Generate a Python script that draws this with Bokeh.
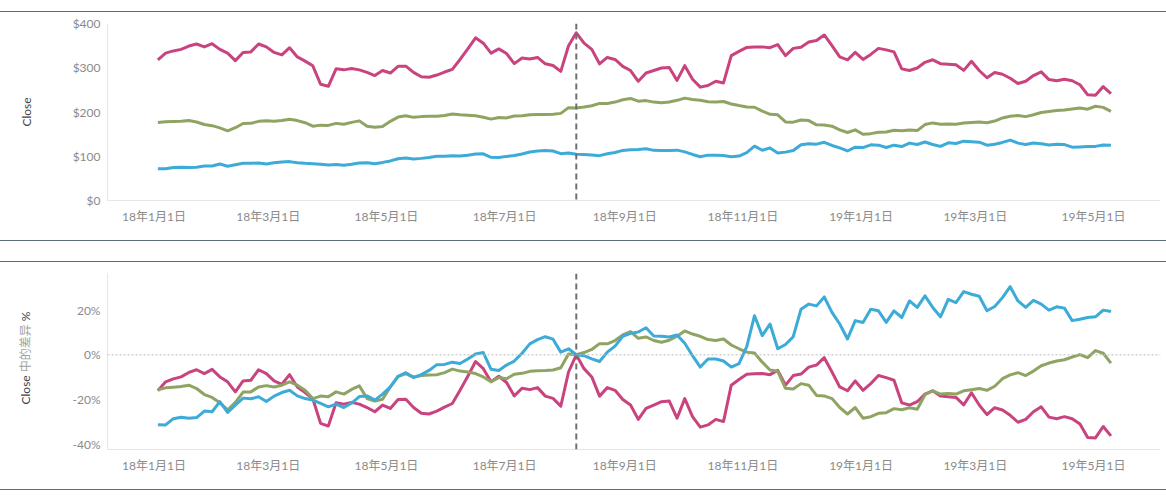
import pandas as pd
from bokeh.plotting import figure
from bokeh.models import (Range1d, FixedTicker, PrintfTickFormatter, CustomJSTickFormatter,
                          Span, Div, Spacer, ColumnDataSource)
from bokeh.layouts import column, row
from bokeh.embed import file_html
from bokeh.resources import INLINE

# ---------------- data ----------------
sample_start = "2018-01-03"
sample_end = "2019-05-10"
sample_step = "4D"
ref_date = "2018-08-07"          # the dashed reference line, base of the % difference

tick_dates = ["2018-01-01", "2018-03-01", "2018-05-01", "2018-07-01", "2018-09-01",
              "2018-11-01", "2019-01-01", "2019-03-01", "2019-05-01"]
tick_labels = ["18年1月1日", "18年3月1日", "18年5月1日", "18年7月1日", "18年9月1日",
               "18年11月1日", "19年1月1日", "19年3月1日", "19年5月1日"]

close_ticks = [0, 100, 200, 300, 400]
pct_ticks = [-40, -20, 0, 20]

# close on the reference date
ref_close_pink = 379.0
ref_close_green = 209.0
ref_close_blue = 104.5

# % difference in Close relative to the reference date
pink_pct = [
    -16.1, -12.1, -10.8, -9.9, -7.9, -6.7, -8.4, -6.5, -9.9, -12.1,
    -16.6, -11.7, -11.4, -6.7, -8.4, -11.7, -13.2, -8.9, -14.4, -16.9,
    -19.7, -30.7, -31.9, -21.5, -22.1, -21.3, -22.1, -23.6, -25.5, -22.5,
    -24.0, -20.0, -19.9, -23.6, -26.2, -26.5, -25.2, -23.4, -21.8, -15.9,
    -9.6, -3.0, -6.2, -12.1, -9.6, -12.4, -18.4, -15.0, -15.6, -14.7,
    -18.5, -19.5, -23.0, -7.7, 0.0, -6.2, -9.9, -18.5, -14.7, -15.9,
    -20.0, -22.5, -28.9, -24.0, -22.5, -21.0, -20.7, -28.4, -19.6, -27.7,
    -32.4, -31.4, -28.9, -29.9, -13.6, -11.1, -8.7, -8.5, -8.4, -8.9,
    -7.0, -13.6, -9.3, -8.6, -5.5, -4.6, -1.3, -7.7, -14.4, -16.1,
    -11.7, -15.9, -12.9, -9.3, -10.2, -11.4, -21.5, -22.5, -21.0, -17.6,
    -16.1, -18.4, -18.8, -19.1, -22.4, -17.0, -22.5, -26.8, -23.7, -24.7,
    -27.1, -30.2, -28.9, -25.5, -23.3, -27.9, -28.6, -27.7, -28.6, -31.0,
    -37.0, -37.2, -32.1, -36.3,
]
green_pct = [
    -15.7, -14.8, -14.5, -14.2, -13.6, -15.1, -17.8, -19.1, -21.5, -24.7,
    -21.3, -16.7, -16.6, -14.4, -13.8, -14.4, -13.6, -12.1, -13.6, -15.9,
    -19.6, -18.5, -18.8, -16.6, -17.6, -15.5, -13.9, -19.6, -20.7, -19.9,
    -14.4, -9.8, -8.4, -10.1, -9.3, -9.0, -8.9, -8.0, -6.4, -7.3,
    -7.7, -8.4, -9.9, -12.0, -10.2, -10.7, -8.7, -8.3, -7.4, -7.1,
    -7.0, -6.8, -5.8, 0.4, 0.0, 1.0, 2.4, 5.0, 4.9, 6.4,
    8.9, 10.4, 7.4, 8.0, 6.4, 5.6, 6.5, 8.3, 10.7, 9.3,
    8.3, 6.8, 6.4, 7.1, 4.4, 2.7, 1.2, 0.8, -3.3, -6.8,
    -7.4, -15.0, -15.3, -12.9, -13.6, -18.2, -18.4, -19.6, -23.6, -26.5,
    -23.6, -28.4, -27.7, -26.2, -25.9, -24.1, -24.6, -23.7, -24.4, -17.9,
    -16.1, -17.6, -17.3, -17.6, -16.1, -15.6, -15.1, -15.9, -14.1, -10.7,
    -9.0, -8.0, -9.3, -7.3, -4.9, -3.7, -2.8, -2.2, -1.0, 0.1,
    -1.3, 1.9, 0.7, -3.7,
]
blue_pct = [
    -31.3, -31.4, -28.6, -28.0, -28.4, -28.1, -25.2, -25.5, -21.0, -25.8,
    -22.5, -19.4, -19.7, -18.8, -20.9, -18.5, -16.9, -15.9, -18.4, -19.6,
    -20.3, -21.8, -23.3, -22.1, -23.6, -21.6, -18.7, -18.4, -20.3, -17.6,
    -14.4, -9.6, -8.0, -10.1, -8.9, -7.0, -4.4, -4.3, -3.3, -3.9,
    -1.9, 0.4, 1.0, -6.5, -7.0, -4.6, -2.8, 0.7, 4.9, 6.8,
    8.1, 7.0, 1.2, 2.7, 0.0, -0.4, -1.8, -3.0, 1.2, 3.9,
    8.3, 9.6, 10.2, 12.1, 8.4, 8.3, 8.0, 8.9, 5.2, -0.4,
    -5.5, -1.9, -1.9, -2.8, -5.5, -4.0, 3.7, 17.5, 8.6, 13.8,
    2.7, 4.6, 8.1, 20.4, 22.7, 21.9, 25.9, 19.0, 13.8, 7.1,
    15.3, 14.5, 20.4, 19.7, 14.5, 19.7, 16.7, 24.1, 21.2, 26.4,
    21.2, 17.0, 24.8, 23.4, 28.3, 27.1, 26.2, 19.7, 21.6, 25.6,
    30.5, 24.1, 21.2, 24.4, 22.7, 20.0, 21.5, 20.9, 15.3, 15.9,
    16.7, 17.0, 20.0, 19.4,
]

# ---------------- styling ----------------
FONT = "Lato, 'Noto Sans CJK SC'"
PINK, GREEN, BLUE = "#c9437f", "#8fa462", "#3dabd8"
SEP = "#5a6f7c"
TICK_COLOR = "#8a8a8a"
TITLE_DARK = "#444444"
TITLE_LIGHT = "#a3a3a3"
W = 1166
LEFT = 107
TITLE_W = 52
H_TOP, H_BOT = 228, 227

dates = pd.date_range(sample_start, sample_end, freq=sample_step)
ref_ms = pd.Timestamp(ref_date).value / 1e6
tick_ms = [pd.Timestamp(d).value / 1e6 for d in tick_dates]

src = ColumnDataSource(dict(
    date=dates,
    pink_pct=pink_pct, green_pct=green_pct, blue_pct=blue_pct,
    pink=[ref_close_pink * (1 + v / 100) for v in pink_pct],
    green=[ref_close_green * (1 + v / 100) for v in green_pct],
    blue=[ref_close_blue * (1 + v / 100) for v in blue_pct],
))

x_start = pd.Timestamp("2017-12-08")
x_end = pd.Timestamp("2019-06-04 14:00")

xfmt = CustomJSTickFormatter(args=dict(tms=tick_ms, names=tick_labels), code="""
    let best = 0, bd = Infinity;
    for (let i = 0; i < tms.length; i++) {
        const d = Math.abs(tms[i] - tick);
        if (d < bd) { bd = d; best = i; }
    }
    return names[best];
""")


def make_fig(width, height, left, y0, y1, yticks, yfmt, ylabel):
    p = figure(width=width, height=height, x_axis_type="datetime",
               output_backend="svg", toolbar_location=None,
               x_range=Range1d(x_start, x_end), y_range=Range1d(y0, y1),
               min_border_left=left, min_border_right=6,
               min_border_top=11, min_border_bottom=40)
    p.outline_line_color = None
    p.grid.visible = False
    p.background_fill_color = "white"
    p.border_fill_color = "white"

    xa = p.xaxis[0]
    xa.ticker = FixedTicker(ticks=tick_ms)
    xa.formatter = xfmt
    xa.axis_line_color = "#e6e6e6"
    xa.major_tick_line_color = None
    xa.minor_tick_line_color = None
    xa.major_tick_out = 0
    xa.major_label_standoff = 8
    xa.major_label_text_font = FONT
    xa.major_label_text_font_size = "12px"
    xa.major_label_text_color = TICK_COLOR

    ya = p.yaxis[0]
    ya.ticker = FixedTicker(ticks=yticks)
    ya.formatter = PrintfTickFormatter(format=yfmt)
    ya.axis_line_color = "#e6e6e6"
    ya.major_tick_line_color = None
    ya.minor_tick_line_color = None
    ya.major_tick_out = 0
    ya.major_label_standoff = 7
    ya.major_label_text_font = FONT
    ya.major_label_text_font_size = "12px"
    ya.major_label_text_color = TICK_COLOR
    if ylabel:
        ya.axis_label = ylabel
        ya.axis_label_text_font = FONT
        ya.axis_label_text_font_size = "12px"
        ya.axis_label_text_font_style = "normal"
        ya.axis_label_text_color = TITLE_DARK
        ya.axis_label_standoff = 36

    p.add_layout(Span(location=ref_ms, dimension="height", line_color="#6f6f6f",
                      line_width=2, line_dash="6 4"))
    return p


top = make_fig(W, H_TOP, LEFT, 0, 400, close_ticks, "$%d", "Close")
for col, c in (("pink", PINK), ("green", GREEN), ("blue", BLUE)):
    top.line("date", col, source=src, line_color=c, line_width=3, line_join="round")

bottom = make_fig(W - TITLE_W, H_BOT, LEFT - TITLE_W, -42.4, 36.4, pct_ticks, "%d%%", None)
bottom.add_layout(Span(location=0, dimension="width", line_color="#bdbdbd",
                       line_width=1, line_dash="2 2"), "center")
for col, c in (("pink_pct", PINK), ("green_pct", GREEN), ("blue_pct", BLUE)):
    bottom.line("date", col, source=src, line_color=c, line_width=3, line_join="round")

# two-tone vertical title of the lower panel: "Close 中的差异 %"
title_html = (
    f'<div style="position:relative;width:{TITLE_W}px;height:{H_BOT}px;">'
    '<div style="position:absolute;left:26px;top:96px;'
    'transform:translate(-50%,-50%) rotate(-90deg);white-space:nowrap;'
    "font-family:Lato,'Noto Sans CJK SC';font-size:12px;line-height:14px;"
    f'color:{TITLE_DARK};">'
    f'Close <span style="color:{TITLE_LIGHT}">中的差异</span> %</div></div>'
)
bottom_title = Div(text=title_html, width=TITLE_W, height=H_BOT, margin=0)


def sep():
    return Div(text="", width=W, height=1, margin=0, styles={"background-color": SEP})


layout = column(
    Spacer(width=W, height=11, margin=0),
    sep(), top, sep(),
    Spacer(width=W, height=20, margin=0),
    sep(),
    row(bottom_title, bottom, spacing=0),
    sep(),
    spacing=0,
)

open("out.html", "w").write(file_html(layout, INLINE))
